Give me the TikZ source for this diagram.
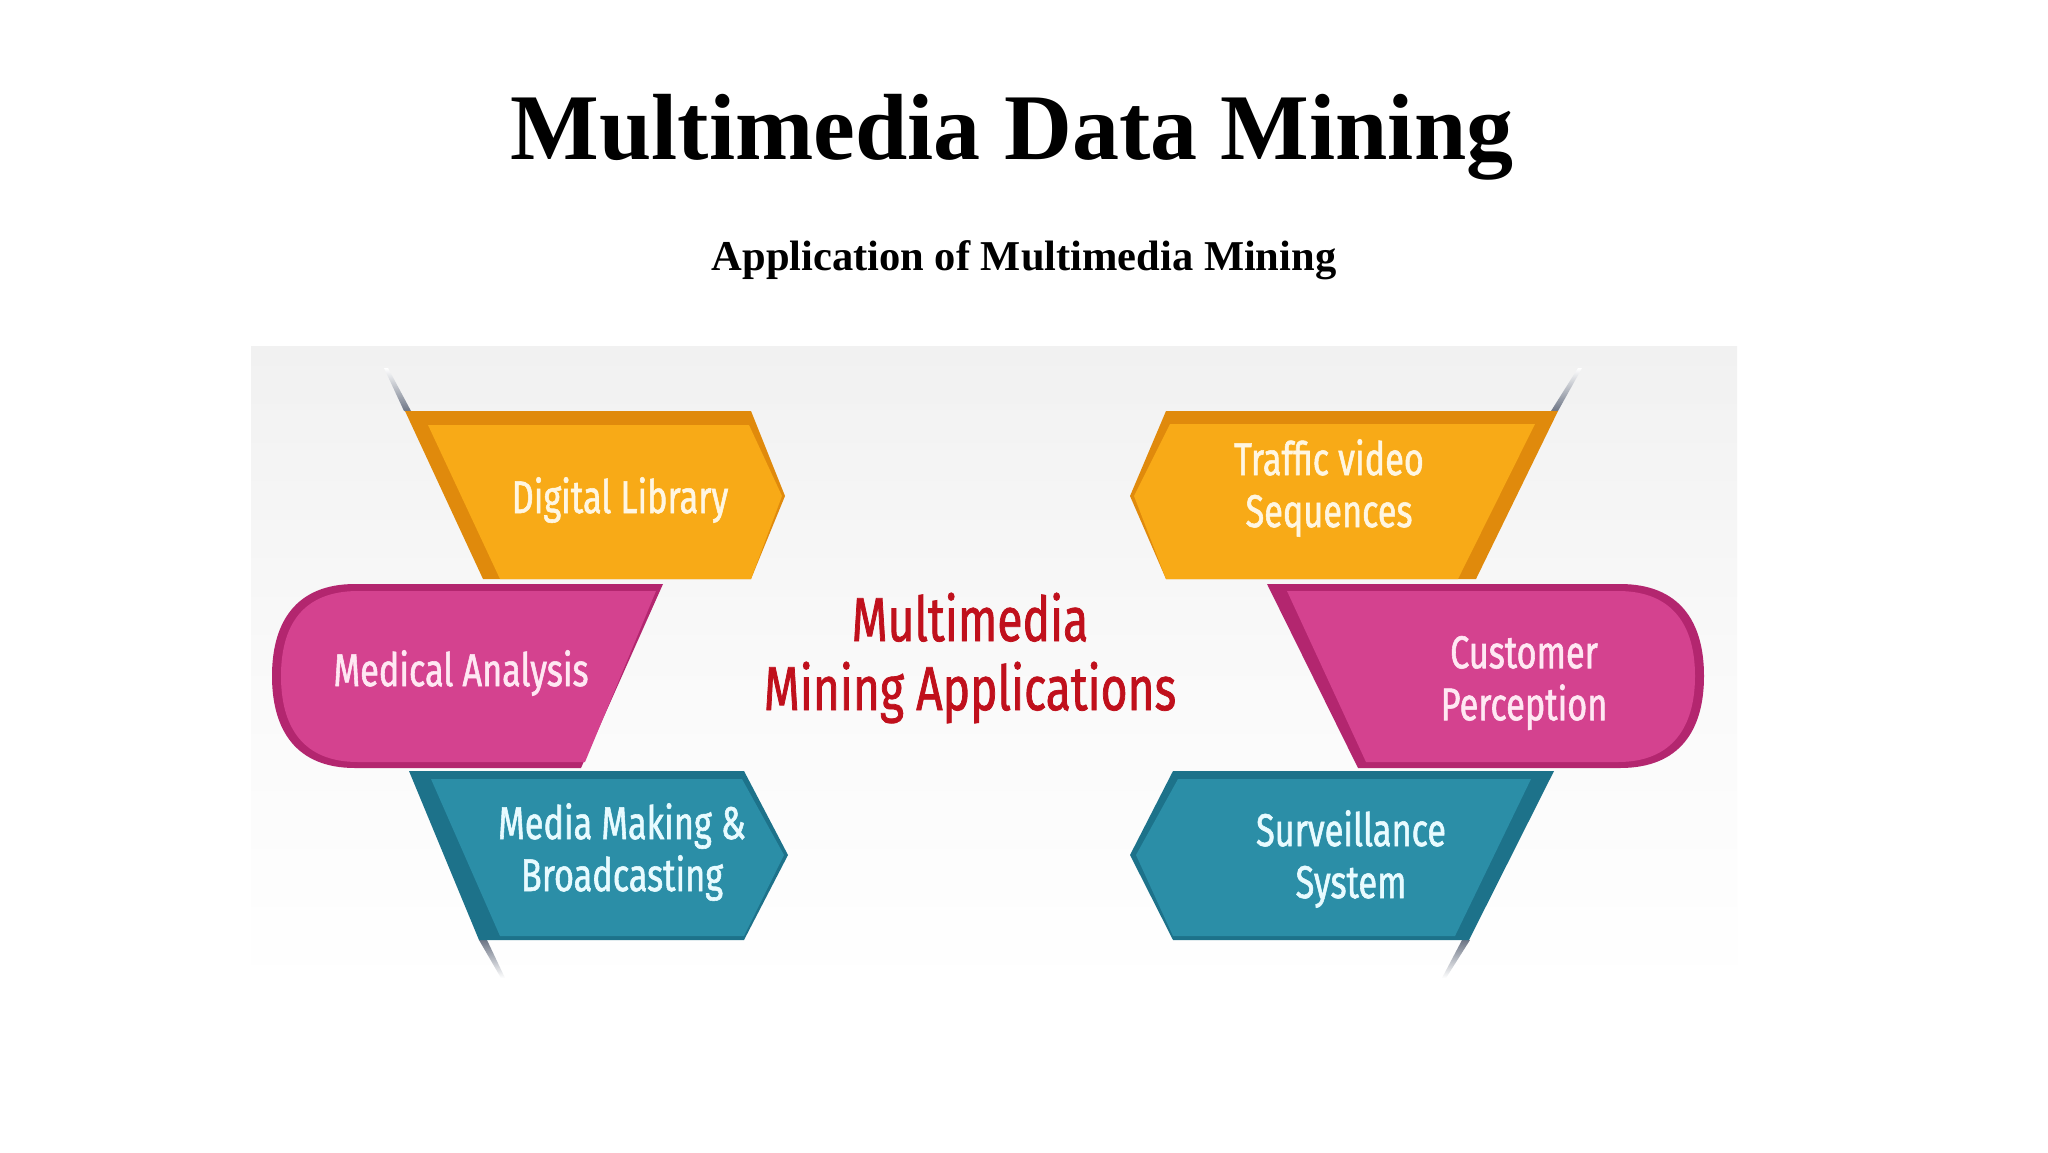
\documentclass[tikz,border=0pt]{standalone}
\usepackage{fontspec}
\setmainfont{Liberation Serif}
\newfontfamily\labfont[FakeStretch=0.745,FakeBold=1.2]{Fira Sans}
\definecolor{orM}{HTML}{F8AA17}
\definecolor{orD}{HTML}{E08A0C}
\definecolor{pkM}{HTML}{D4428F}
\definecolor{pkD}{HTML}{B3266F}
\definecolor{tlM}{HTML}{2B8EA7}
\definecolor{tlD}{HTML}{1D728A}
\definecolor{redT}{HTML}{C0101C}
\definecolor{bgG}{HTML}{F1F1F1}
\definecolor{shG}{HTML}{6E7686}
\definecolor{txO}{HTML}{FFF6E2}
\definecolor{txP}{HTML}{FFE8F3}
\definecolor{txT}{HTML}{E8FBFF}
\tikzset{
  lbl/.style={inner sep=0pt, align=center, font=\labfont\fontsize{46}{52}\selectfont},
  shadowwedge/.style={top color=white, bottom color=shG, draw=none},
  shadowwedgeup/.style={top color=shG, bottom color=white, draw=none}
}
\begin{document}
\begin{tikzpicture}[x=1pt,y=-1pt]
\useasboundingbox (0,0) rectangle (2048,1152);
\fill[white] (0,0) rectangle (2048,1152);
% background panel
\shade[top color=bgG, bottom color=white, middle color=white!60!bgG] (251,346) rectangle (1737,993);
% shadows
\shade[shadowwedge] (384,368) -- (388,368) -- (411,411) -- (404,411) -- cycle;
\shade[shadowwedgeup] (479,940) -- (487,940) -- (505,978) -- (501,978) -- cycle;
\shade[shadowwedge] (1578,368) -- (1582,368) -- (1558,411) -- (1551,411) -- cycle;
\shade[shadowwedgeup] (1462,940) -- (1470,940) -- (1446,978) -- (1442,978) -- cycle;
% Digital Library
\fill[orD] (405,411) -- (751,411) -- (785,496) -- (751,579) -- (483,579) -- cycle;
\fill[orM] (428,425) -- (749,425) -- (782,496) -- (751,579) -- (500,579) -- cycle;
% Medical Analysis
\fill[pkD] (663,584) -- (581,768) -- (355,768) .. controls (296,768) and (272,730) .. (272,676) .. controls (272,622) and (296,584) .. (355,584) -- cycle;
\fill[pkM] (656,591) -- (585,762) -- (358,762) .. controls (303,762) and (281,727) .. (281,676) .. controls (281,625) and (303,591) .. (358,591) -- cycle;
% Media Making
\fill[tlD] (409,771) -- (744,771) -- (788,855) -- (744,940) -- (479,940) -- cycle;
\fill[tlM] (431,779) -- (742,779) -- (784,855) -- (744,936) -- (500,936) -- cycle;
% Traffic video
\fill[orD] (1166,411) -- (1558,411) -- (1476,579) -- (1166,579) -- (1130,496) -- cycle;
\fill[orM] (1170,424) -- (1535,424) -- (1458,579) -- (1166,579) -- (1134,496) -- cycle;
% Customer Perception
\fill[pkD] (1267,584) -- (1620,584) .. controls (1680,584) and (1704,622) .. (1704,676) .. controls (1704,730) and (1680,768) .. (1620,768) -- (1358,768) -- cycle;
\fill[pkM] (1287,591) -- (1618,591) .. controls (1673,591) and (1695,626) .. (1695,676) .. controls (1695,726) and (1673,762) .. (1618,762) -- (1366,762) -- cycle;
% Surveillance
\fill[tlD] (1173,771) -- (1554,771) -- (1469,940) -- (1173,940) -- (1130,855) -- cycle;
\fill[tlM] (1178,779) -- (1531,779) -- (1455,936) -- (1173,936) -- (1136,855) -- cycle;
% titles
\node[anchor=base, inner sep=0pt, font=\fontsize{94}{110}\selectfont\bfseries] (title) at (1012,159) {Multimedia Data Mining};
\node[anchor=base, inner sep=0pt, font=\fontsize{42.5}{50}\selectfont\bfseries] (subtitle) at (1024,270) {Application of Multimedia Mining};
% labels
\node[lbl, text=txO] (dl) at (620,500) {Digital Library};
\node[lbl, text=txP] (ma) at (461,673) {Medical Analysis};
\node[lbl, text=txT] (mm) at (622,852) {Media Making \&\\Broadcasting};
\node[lbl, text=txO] (tv) at (1329,488) {Traffic video\\Sequences};
\node[lbl, text=txP] (cp) at (1524,683) {Customer\\Perception};
\node[lbl, text=txT] (ss) at (1351,859) {Surveillance\\System};
\node[lbl, text=redT, font=\labfont\fontsize{62}{69}\selectfont] (center) at (970,658) {Multimedia\\Mining Applications};
\end{tikzpicture}
\end{document}
